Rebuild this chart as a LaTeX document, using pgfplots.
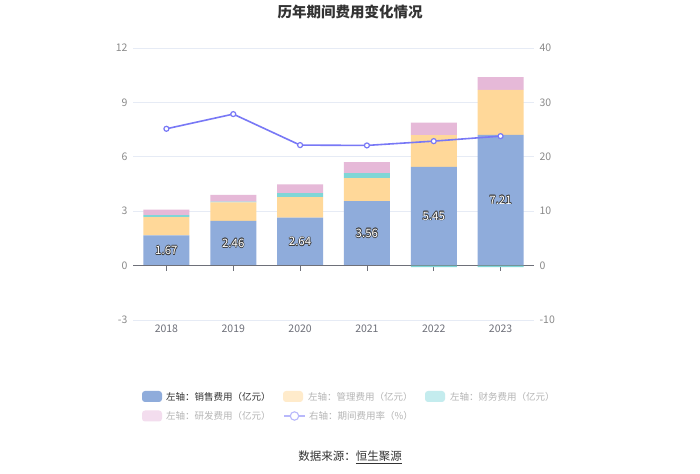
\documentclass[border=0pt]{standalone}
\usepackage{fontspec}
\setmainfont{Noto Sans CJK SC}
\usepackage{pgfplots}
\pgfplotsset{compat=1.18}
\definecolor{cSales}{HTML}{8FACDB}
\definecolor{cAdmin}{HTML}{FFD899}
\definecolor{cFin}{HTML}{80D6D6}
\definecolor{cRD}{HTML}{E6B9D8}
\definecolor{cLine}{HTML}{7878F6}
\definecolor{cGrid}{HTML}{E6EBF5}
\definecolor{cTick}{HTML}{8A8A8A}
\definecolor{cXTick}{HTML}{6E7079}
\definecolor{cAxis}{HTML}{6E7079}
\definecolor{cText}{HTML}{333333}
\definecolor{cOff}{HTML}{B5B5B5}
\definecolor{pAdmin}{HTML}{FFEBCB}
\definecolor{pFin}{HTML}{C4ECEE}
\definecolor{pRD}{HTML}{F3DDEE}
\definecolor{pLine}{HTML}{B8B8FB}
\definecolor{lblDark}{HTML}{404040}
\newcommand\sh[3]{\makebox[0pt]{\raisebox{#2}{\kern#1\textcolor{lblDark}{#3}\kern-#1}}}
\newcommand\outl[1]{%
  \sh{0.65pt}{0pt}{#1}\sh{-0.65pt}{0pt}{#1}\sh{0pt}{0.65pt}{#1}\sh{0pt}{-0.65pt}{#1}%
  \sh{0.45pt}{0.45pt}{#1}\sh{-0.45pt}{0.45pt}{#1}\sh{0.45pt}{-0.45pt}{#1}\sh{-0.45pt}{-0.45pt}{#1}%
  \makebox[0pt]{\textcolor{white}{#1}}}
\begin{document}
\begin{tikzpicture}[x=1pt,y=1pt]
\path[use as bounding box] (0,0) rectangle (700,473);
\fill[white] (0,0) rectangle (700,473);
% main stacked bars (left axis)
\begin{axis}[
  at={(133pt,153pt)}, anchor=south west, scale only axis,
  width=401pt, height=272pt,
  xmin=-0.5, xmax=5.5, ymin=-3, ymax=12,
  ytick={-3,0,3,6,9,12},
  xtick={0,...,5}, xticklabels={2018,2019,2020,2021,2022,2023},
  ybar stacked, bar width=46pt,
  axis line style={draw=none}, major tick length=0pt,
  ymajorgrids, grid style={cGrid, line width=0.6pt},
  tick label style={font=\fontsize{10.5}{12}\selectfont},
  yticklabel style={text=cTick, xshift=-2pt},
  xticklabel style={text=cXTick, yshift=-1pt},
  /pgf/number format/assume math mode=true,
  clip=false]
\addplot[fill=cSales, draw=none] coordinates {(0,1.67)(1,2.46)(2,2.64)(3,3.56)(4,5.45)(5,7.21)};
\addplot[fill=cAdmin, draw=none] coordinates {(0,1.00)(1,1.02)(2,1.14)(3,1.26)(4,1.75)(5,2.48)};
\addplot[fill=cFin, draw=none] coordinates {(0,0.11)(1,0.05)(2,0.22)(3,0.28)(4,0)(5,0)};
\addplot[fill=cRD, draw=none] coordinates {(0,0.30)(1,0.37)(2,0.48)(3,0.61)(4,0.68)(5,0.71)};
\end{axis}
% overlay: negative finance bars, zero axis line, bar labels
\begin{axis}[
  at={(133pt,153pt)}, anchor=south west, scale only axis,
  width=401pt, height=272pt,
  xmin=-0.5, xmax=5.5, ymin=-3, ymax=12,
  axis y line=none, axis x line*=middle,
  x axis line style={cAxis, line width=0.8pt, -},
  xtick={0,...,5}, xticklabels={},
  xtick align=center, major tick length=5pt,
  xtick style={cAxis, line width=0.8pt, yshift=-2.5pt},
  clip=false]
\addplot[ybar, bar width=46pt, fill=cFin, draw=none] coordinates {(4,-0.08)(5,-0.08)};
\addplot[only marks, mark=none, point meta=explicit symbolic,
  nodes near coords={\outl{\pgfplotspointmeta}},
  nodes near coords align={center},
  every node near coord/.append style={font=\fontsize{11.5}{13}\selectfont}]
  coordinates {(0,0.835)[1.67] (1,1.23)[2.46] (2,1.32)[2.64] (3,1.78)[3.56] (4,2.725)[5.45] (5,3.605)[7.21]};
\end{axis}
% right axis line
\begin{axis}[
  at={(133pt,153pt)}, anchor=south west, scale only axis,
  width=401pt, height=272pt,
  xmin=-0.5, xmax=5.5, ymin=-10, ymax=40,
  ytick={-10,0,10,20,30,40},
  axis x line=none, axis y line*=right,
  y axis line style={draw=none}, major tick length=0pt,
  tick label style={font=\fontsize{10.5}{12}\selectfont},
  yticklabel style={text=cTick, xshift=2pt},
  /pgf/number format/assume math mode=true,
  clip=false]
\addplot[cLine, line width=1.6pt, mark=*, mark size=2.5pt,
  mark options={fill=white, draw=cLine, line width=1.2pt, solid}]
  coordinates {(0,25.15)(1,27.85)(2,22.15)(3,22.09)(4,22.88)(5,23.80)};
\end{axis}
% title
\node[font=\bfseries\fontsize{14.5}{16}\selectfont, text=cText] at (350,461) {历年期间费用变化情况};
% legend
\begin{scope}[every node/.style={anchor=west, inner sep=0pt, font=\fontsize{9.5}{11}\selectfont}]
\fill[cSales, rounded corners=3pt] (142,71) rectangle (162,82);
\node[text=cText] at (166,76.5) {左轴：销售费用（亿元）};
\fill[pAdmin, rounded corners=3pt] (283,71) rectangle (303,82);
\node[text=cOff] at (308,76.5) {左轴：管理费用（亿元）};
\fill[pFin, rounded corners=3pt] (425,71) rectangle (445,82);
\node[text=cOff] at (450,76.5) {左轴：财务费用（亿元）};
\fill[pRD, rounded corners=3pt] (142,51.5) rectangle (162,62.5);
\node[text=cOff] at (166,57) {左轴：研发费用（亿元）};
\draw[pLine, line width=1.3pt] (284,57) -- (305,57);
\draw[pLine, fill=white, line width=1.1pt] (294.5,57) circle (4.2pt);
\node[text=cOff] at (309,57) {右轴：期间费用率（\%）};
\end{scope}
% source
\node[font=\fontsize{11.5}{13}\selectfont, text=cText] at (350,16) {数据来源：\underline{恒生聚源}};
\end{tikzpicture}
\end{document}
